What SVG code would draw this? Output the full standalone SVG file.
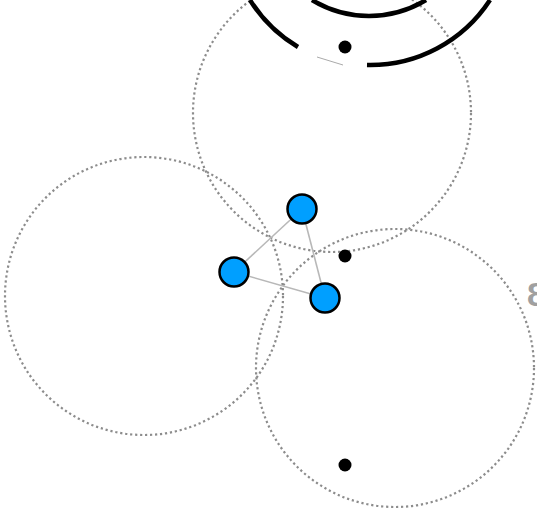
<svg xmlns="http://www.w3.org/2000/svg" width="537" height="512" viewBox="0 0 537 512">
<style>
.zone{fill:none;stroke:#8c8c8c;stroke-width:2.2;stroke-dasharray:2.2 2.8}
.dot{fill:#000}
.link{stroke:#b8b8b8;stroke-width:1.6}
.node{fill:#009fff;stroke:#000;stroke-width:2.5}
.arc{fill:none;stroke:#000;stroke-width:4.5}
</style>
<rect width="537" height="512" fill="#fff"/>
<g id="zones">
<circle class="zone" cx="332" cy="113" r="139"/>
<circle class="zone" cx="144" cy="296" r="139"/>
<circle class="zone" cx="395" cy="368" r="139"/>
</g>
<g id="arcs">
<path class="arc" d="M250 0 A143 143 0 0 0 298 47"/>
<path class="arc" d="M367 65 A143 143 0 0 0 490 0"/>
<path class="arc" d="M312 0 A110 110 0 0 0 426 0"/>
<line x1="317" y1="57" x2="343" y2="65" stroke="#aaa" stroke-width="1"/>
</g>
<g id="dots">
<circle class="dot" cx="345" cy="47" r="6.5"/>
<circle class="dot" cx="345" cy="256" r="6.5"/>
<circle class="dot" cx="345" cy="465" r="6.5"/>
</g>
<g id="connectors">
<line class="link" x1="302" y1="209" x2="234" y2="272"/>
<line class="link" x1="234" y1="272" x2="325" y2="298"/>
<line class="link" x1="302" y1="209" x2="325" y2="298"/>
</g>
<g id="node-a"><circle class="node" cx="302" cy="209" r="14.5"/></g>
<g id="node-b"><circle class="node" cx="234" cy="272" r="14.5"/></g>
<g id="node-c"><circle class="node" cx="325" cy="298" r="14.5"/></g>
<text x="527" y="306" font-family="Liberation Sans, Arial, sans-serif" font-size="34" font-weight="bold" fill="#a0a0a0">8</text>
</svg>
